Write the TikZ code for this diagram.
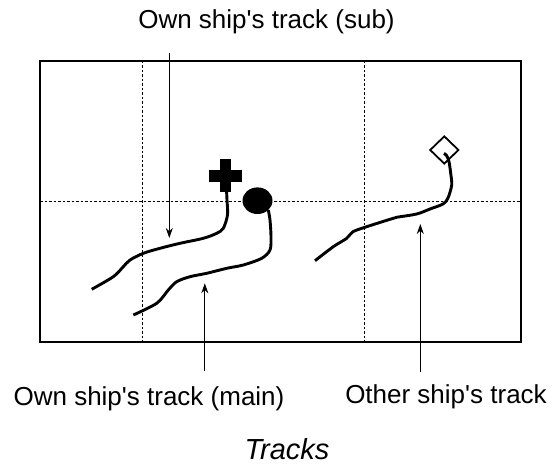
\documentclass[tikz,border=0pt]{standalone}
\usepackage{fontspec}
\setmainfont{Liberation Sans}
\usetikzlibrary{arrows.meta, shapes.geometric, positioning}

\begin{document}
\begin{tikzpicture}[
    x=1pt, y=-1pt, % pixel units, y pointing down
    arrow/.style={-{Stealth[length=10pt, width=7pt]}, line width=0.9pt}, % Arrow style
    gridline/.style={line width=0.9pt, dash pattern=on 2.5pt off 2pt},
    track/.style={line width=2.9pt},
    textnode/.style={font=\fontsize{26}{30}\selectfont, inner sep=0pt, anchor=base}
]
    \useasboundingbox (0,0) rectangle (552,468);

    % Screen frame and grid
    \draw[line width=2pt] (40,61) rectangle (521,342);
    \draw[gridline] (142.7,61) -- (142.7,342);
    \draw[gridline] (364.3,61) -- (364.3,342);
    \draw[gridline] (40,201.7) -- (521,201.7);

    % Own ship marks
    \fill (220,159) rectangle (231,192);
    \fill (209,170) rectangle (242,182);
    \node (own) [ellipse, fill, inner sep=0pt, minimum width=30pt, minimum height=26.6pt] at (257.5,200.7) {};

    % Other ship mark
    \node (other) [diamond, draw, line width=1.8pt, inner sep=0pt, minimum width=29pt, minimum height=28pt] at (444.3,150) {};

    % Tracks
    \draw[track] plot[smooth, tension=0.5] coordinates {(226.5,190) (227,200) (227.5,215) (223.3,228.3) (216.7,233.3) (203.3,238.3) (180,243.3) (160,248.3) (143.3,253.3) (130,260) (123.3,266.7) (113.3,276.7) (91.7,289.3)};
    \draw[track] plot[smooth, tension=0.5] coordinates {(268.3,210) (270,220) (271,236.7) (270,250) (261.7,258.3) (243.3,265) (226.7,268.3) (206.7,273.3) (190,276.7) (176.7,281.7) (168.3,290) (156.7,303.3) (133.3,315)};
    \draw[track] plot[smooth, tension=0.5] coordinates {(444,153.3) (446.7,155.7) (449,161.7) (450.7,173.3) (451.7,185) (448,198) (443,204) (430,209) (416.7,214) (396.7,217.3) (390,219.3) (366.7,226.7) (353,231.7) (346.7,238.3) (333.3,246.7) (315,260.7)};

    % Labels
    \node (lblSub)   [textnode] at (266.5,28.3) {Own ship\textquotesingle s track (sub)};
    \node (lblMain)  [textnode] at (149,405)    {Own ship\textquotesingle s track (main)};
    \node (lblOther) [textnode] at (446,403)    {Other ship\textquotesingle s track};
    \node (title)    [textnode, font=\fontsize{29}{33}\selectfont\itshape] at (287,459) {Tracks};

    % Arrow tips
    \coordinate (subTip)   at (169.3,238);
    \coordinate (mainTip)  at (204.8,283.3);
    \coordinate (otherTip) at (420.3,224);

    % Arrows
    \draw[arrow, shorten <=19pt] (lblSub.south -| subTip) -- (subTip);
    \draw[arrow, shorten <=15pt] (lblMain.north -| mainTip) -- (mainTip);
    \draw[arrow, shorten <=12pt] (lblOther.north -| otherTip) -- (otherTip);

\end{tikzpicture}
\end{document}
